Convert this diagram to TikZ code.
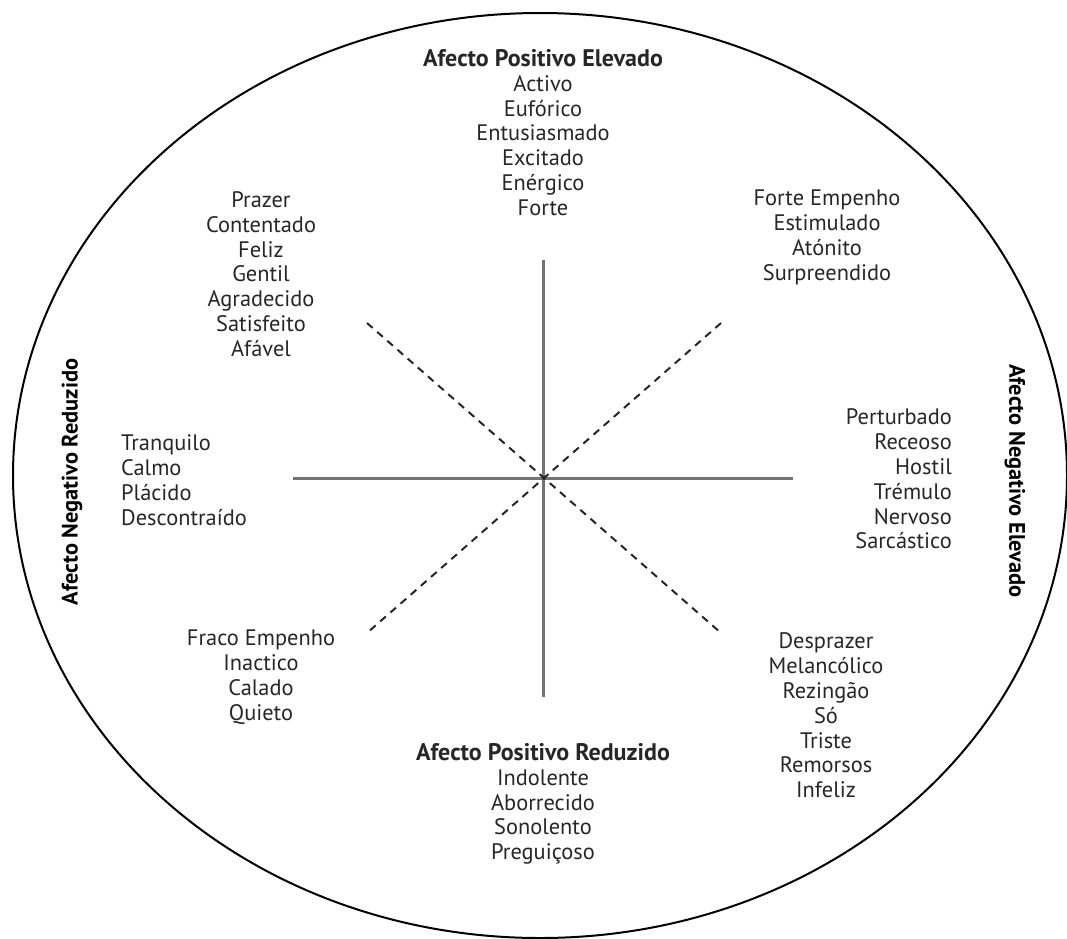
\documentclass[tikz,border=0pt]{standalone}
\usepackage{fontspec}
\setmainfont{PT Sans}
\newcommand{\hdrfont}{\fontsize{24}{24.8}\selectfont\bfseries}
\begin{document}
\begin{tikzpicture}[x=1pt,y=-1pt,
  lbl/.style={align=center,text=black!85,inner sep=0pt,font=\fontsize{22.4}{24.8}\selectfont},
  vhdr/.style={text=black,inner sep=0pt,font=\fontsize{22.4}{24.8}\selectfont\bfseries},
  axis/.style={draw=black!55,line width=3pt},
  diag/.style={draw=black!85,line width=2pt,dash pattern=on 7.5pt off 6pt}]
\useasboundingbox (0,0) rectangle (1067,938);
\draw[line width=2pt] (540,475.5) ellipse [x radius=527, y radius=462.5];
\coordinate (c) at (543,478);
\coordinate (n) at (543,260);
\coordinate (s) at (543,697);
\coordinate (w) at (293,478);
\coordinate (e) at (793,478);
\coordinate (nw) at (367,323);
\coordinate (ne) at (721,323);
\coordinate (sw) at (367,633);
\coordinate (se) at (721,633);
\draw[axis] (n) -- (s);
\draw[axis] (w) -- (e);
\draw[diag] (nw) -- (se);
\draw[diag] (ne) -- (sw);
\node[lbl] (top) at (543,132.5) {{\hdrfont Afecto Positivo Elevado}\\Activo\\Eufórico\\Entusiasmado\\Excitado\\Enérgico\\Forte};
\node[lbl] (tl) at (261,274) {Prazer\\Contentado\\Feliz\\Gentil\\Agradecido\\Satisfeito\\Afável};
\node[lbl] (tr) at (827,237.5) {Forte Empenho\\Estimulado\\Atónito\\Surpreendido};
\node[lbl,align=left,anchor=west] (lft) at (121,480) {Tranquilo\\Calmo\\Plácido\\Descontraído};
\node[lbl,align=right,anchor=east] (rgt) at (952,479) {Perturbado\\Receoso\\Hostil\\Trémulo\\Nervoso\\Sarcástico};
\node[lbl] (bl) at (261,677) {Fraco Empenho\\Inactico\\Calado\\Quieto};
\node[lbl] (br) at (826,715.5) {Desprazer\\Melancólico\\Rezingão\\Só\\Triste\\Remorsos\\Infeliz};
\node[lbl] (bot) at (543,804) {{\hdrfont Afecto Positivo Reduzido}\\Indolente\\Aborrecido\\Sonolento\\Preguiçoso};
\node[vhdr,rotate=90] (lv) at (72,482) {Afecto Negativo Reduzido};
\node[vhdr,rotate=-90] (rv) at (1015,481) {Afecto Negativo Elevado};
\end{tikzpicture}
\end{document}
